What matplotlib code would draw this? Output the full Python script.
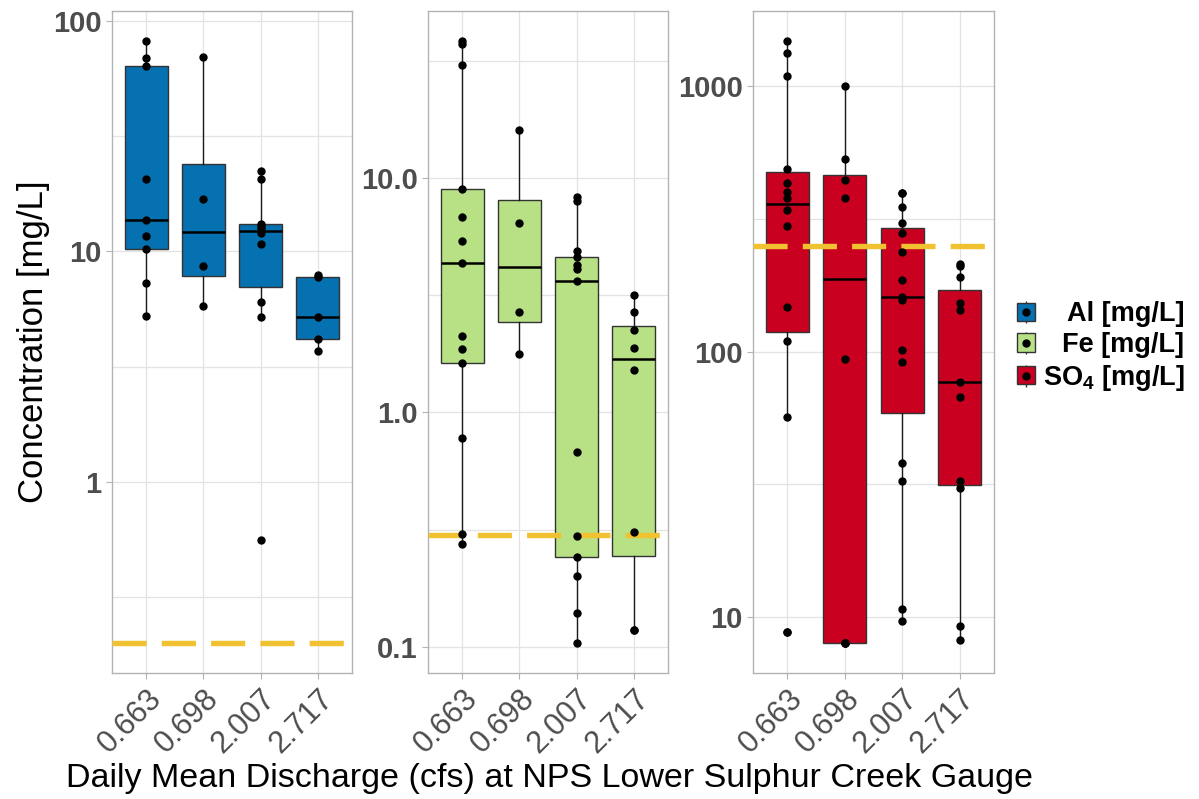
import numpy as np
import matplotlib.pyplot as plt
from matplotlib import cbook
from matplotlib.patches import Patch
from matplotlib.lines import Line2D
from matplotlib.legend_handler import HandlerTuple
from matplotlib.ticker import FixedLocator, NullFormatter

plt.rcParams['font.family'] = ['Liberation Sans', 'DejaVu Sans']
plt.rcParams['mathtext.fontset'] = 'custom'
plt.rcParams['mathtext.rm'] = 'Liberation Sans'
plt.rcParams['mathtext.bf'] = 'Liberation Sans:bold'

# discharge classes (cfs) on the x axis
discharge = ['0.663', '0.698', '2.007', '2.717']

# concentrations per discharge class, mg/L
al = [
    [5.26, 7.3, 10.2, 11.7, 13.7, 20.6, 63.5, 68.8, 81.8],
    [5.82, 8.65, 16.9, 69.5],
    [0.56, 5.21, 6.06, 10.8, 12.0, 12.6, 12.9, 13.2, 20.7, 22.3],
    [3.71, 4.17, 5.17, 7.78, 7.92],
]
fe = [
    [0.276, 0.302, 0.774, 1.63, 1.87, 2.12, 4.33, 5.37, 6.79, 8.97, 30.2, 37.2, 38.3],
    [1.78, 2.68, 6.44, 16.0],
    [0.104, 0.139, 0.201, 0.241, 0.298, 0.68, 3.63, 4.09, 4.23, 4.58, 4.89, 8.0, 8.29],
    [0.118, 0.118, 0.31, 1.52, 1.88, 2.24, 2.67, 3.18],
]
so4 = [
    [8.8, 8.8, 56.7, 110, 147, 296, 340, 380, 398, 432, 488, 1089, 1330, 1476],
    [8.0, 8.0, 8.0, 93.6, 378, 441, 532, 1000],
    [9.66, 10.7, 32.5, 37.9, 91.7, 101, 157, 160, 186, 237, 279, 304, 351, 395, 395],
    [8.17, 9.25, 30.6, 32.5, 67.3, 76.8, 144, 153, 190.5, 210, 214.6],
]

# water quality thresholds (dashed lines)
al_limit = 0.2
fe_limit = 0.3
so4_limit = 250

colors = ['#0571B0', '#B8E186', '#CA0020']
labels = ['Al [mg/L]', 'Fe [mg/L]', r'SO$_\mathbf{4}$ [mg/L]']
limit_color = '#F0C232'


def draw_panel(ax, groups, color, limit, ticks, ticklabels):
    pos = np.arange(1, len(groups) + 1)
    # box stats on log10 values so boxes follow the log axis
    stats = []
    for g in groups:
        s = cbook.boxplot_stats(np.log10(g), whis=1.5)[0]
        for k in ('med', 'q1', 'q3', 'whislo', 'whishi'):
            s[k] = 10 ** s[k]
        s['fliers'] = []
        stats.append(s)
    ax.set_yscale('log')
    ax.bxp(stats, positions=pos, widths=0.75, patch_artist=True,
           showfliers=False, showcaps=False,
           boxprops=dict(facecolor=color, edgecolor='#333333', linewidth=1.0),
           medianprops=dict(color='black', linewidth=1.8),
           whiskerprops=dict(color='#1a1a1a', linewidth=1.0))
    for p, g in zip(pos, groups):
        ax.plot(np.full(len(g), p), g, 'o', color='black', markersize=5,
                zorder=4)
    ax.axhline(limit, color=limit_color, lw=3.9, dashes=(6.3, 2.8), zorder=3.5)

    vals = np.log10(np.concatenate([np.concatenate(groups), [limit]]))
    lo, hi = vals.min(), vals.max()
    pad = 0.05 * (hi - lo)
    ax.set_ylim(10 ** (lo - pad), 10 ** (hi + pad))
    ax.set_xlim(0.4, len(groups) + 0.6)

    ax.set_yticks(ticks, ticklabels)
    ax.yaxis.set_minor_locator(FixedLocator(10 ** (np.arange(-3, 5) + 0.5)))
    ax.yaxis.set_minor_formatter(NullFormatter())
    ax.set_xticks(pos, discharge)
    ax.grid(True, which='both', color='#E3E3E3', lw=0.9)
    ax.set_axisbelow(True)
    for sp in ax.spines.values():
        sp.set_color('#B3B3B3')
        sp.set_linewidth(1.0)
    ax.tick_params(which='major', color='#B3B3B3', length=4, labelcolor='#4D4D4D')
    ax.tick_params(which='minor', length=0)
    for t in ax.get_yticklabels():
        t.set_fontsize(21)
        t.set_fontweight('bold')
    for t in ax.get_xticklabels():
        t.set_fontsize(22)
        t.set_rotation(45)
        t.set_ha('right')
        t.set_va('top')
        t.set_rotation_mode('anchor')


fig = plt.figure(figsize=(11.99, 7.99), dpi=100)
W, H = 1199, 799
ax1 = fig.add_axes([112 / W, 1 - 673 / H, 240 / W, 662 / H])
ax2 = fig.add_axes([428 / W, 1 - 673 / H, 240 / W, 662 / H])
ax3 = fig.add_axes([753 / W, 1 - 673 / H, 241 / W, 662 / H])

draw_panel(ax1, al, colors[0], al_limit, [1, 10, 100], ['1', '10', '100'])
draw_panel(ax2, fe, colors[1], fe_limit, [0.1, 1, 10], ['0.1', '1.0', '10.0'])
draw_panel(ax3, so4, colors[2], so4_limit, [10, 100, 1000], ['10', '100', '1000'])

ax1.set_ylabel('Concentration [mg/L]', fontsize=25, labelpad=2)
fig.text(549 / W, 1 - 778 / H, 'Daily Mean Discharge (cfs) at NPS Lower Sulphur Creek Gauge',
         ha='center', va='center', fontsize=24.5)

handles = []
for c in colors:
    box = Patch(facecolor=c, edgecolor='#333333', linewidth=1.0)
    whisk = Line2D([], [], marker='|', markersize=16, color='#333333',
                   markeredgewidth=1.0, linestyle='none')
    dot = Line2D([], [], marker='o', markersize=5, color='black', linestyle='none')
    handles.append((whisk, box, dot))

leg = fig.legend(handles, labels, loc='center left',
                 bbox_to_anchor=(1017 / W, 1 - 347 / H),
                 handler_map={tuple: HandlerTuple(ndivide=1, pad=0)},
                 frameon=False, borderpad=0, borderaxespad=0,
                 handlelength=0.65, handleheight=0.65,
                 handletextpad=0.3, labelspacing=0.18,
                 prop=dict(size=19.5, weight='bold'))

# right-align the legend labels
fig.canvas.draw()
renderer = fig.canvas.get_renderer()
widths = [t.get_window_extent(renderer).width for t in leg.get_texts()]
for t, w in zip(leg.get_texts(), widths):
    t.set_position((max(widths) - w, 0))

fig.savefig('out.png', dpi=100)
